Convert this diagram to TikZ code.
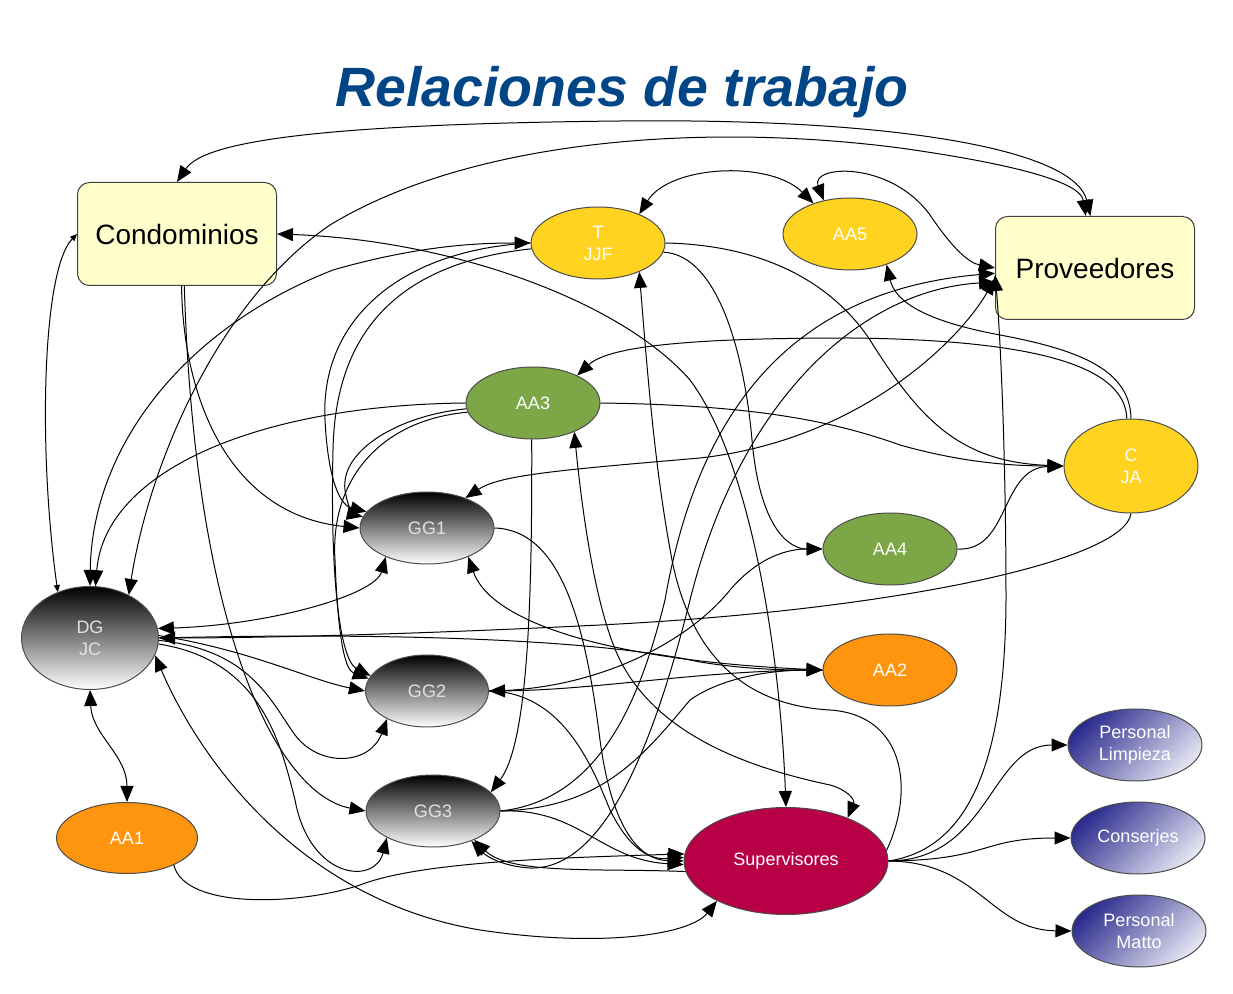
\documentclass[tikz,border=0pt]{standalone}
\usepackage{fontspec}
\setmainfont{Liberation Sans}
\usetikzlibrary{shapes.geometric,arrows.meta}
\definecolor{boxy}{HTML}{FFFFCC}
\definecolor{cyel}{HTML}{FFD320}
\definecolor{cgrn}{HTML}{7DA647}
\definecolor{corg}{HTML}{FF950E}
\definecolor{ccrim}{HTML}{B80047}
\definecolor{cnavy}{HTML}{2B2B8E}
\definecolor{clav}{HTML}{E4E4F2}
\definecolor{tblue}{HTML}{004586}
\begin{document}
\begin{tikzpicture}[x=0.5pt,y=-0.5pt,
  >={Triangle[length=8pt,width=6.5pt]},
  box/.style={draw=black!75, line width=0.5pt, fill=boxy, rounded corners=6pt,
    minimum width=99.5pt, minimum height=51.5pt, inner sep=0pt,
    font=\fontsize{14}{16}\selectfont},
  ell/.style={ellipse, draw=black!70, line width=0.5pt, inner sep=0pt,
    minimum width=67pt, minimum height=36pt, text=white, align=center,
    font=\fontsize{9}{11}\selectfont},
  fyel/.style={fill=cyel},
  fgrn/.style={fill=cgrn},
  forg/.style={fill=corg},
  fcrim/.style={fill=ccrim},
  fgry/.style={top color=black, bottom color=white, text=black!12},
  fpur/.style={top color=cnavy, bottom color=clav, shading angle=45},
  con/.style={line width=0.5pt, draw=black},
  small/.style={>={Triangle[length=3.5pt,width=3pt]}},
]
\useasboundingbox (0,0) rectangle (1233,994);
\node[anchor=base, text=tblue, font=\fontsize{27.7}{30}\selectfont\bfseries\itshape] (title) at (622,107) {Relaciones de trabajo};

\node[box] (cond) at (177,234) {Condominios};
\node[box] (prov) at (1095,268) {Proveedores};
\node[ell,fyel] (T) at (598,243) {T\\JJF};
\node[ell,fyel] (AA5) at (850,234) {AA5};
\node[ell,fgrn] (AA3) at (533,403) {AA3};
\node[ell,fyel,minimum height=47pt] (CJA) at (1131,466) {C\\JA};
\node[ell,fgry] (GG1) at (427,528) {GG1};
\node[ell,fgrn] (AA4) at (890,549) {AA4};
\node[ell,fgry,minimum width=68.5pt,minimum height=51.5pt] (DG) at (90,638) {DG\\JC};
\node[ell,forg] (AA2) at (890,670) {AA2};
\node[ell,fgry,minimum width=61.5pt] (GG2) at (427,691) {GG2};
\node[ell,fgry] (GG3) at (433,811) {GG3};
\node[ell,forg,minimum width=70.5pt,minimum height=35.5pt] (AA1) at (127,838) {AA1};
\node[ell,fcrim,minimum width=102pt,minimum height=53.5pt] (SUP) at (786,861) {Supervisores};
\node[ell,fpur] (PL) at (1135,745) {Personal\\Limpieza};
\node[ell,fpur] (CON) at (1138,838) {Conserjes};
\node[ell,fpur] (PM) at (1139,931) {Personal\\Matto};

% top arcs
\draw[con,<->] (cond.north) .. controls (205,140) and (330,124) .. (620,121) .. controls (900,118) and (1075,150) .. (prov.95);
\draw[con,<->] (DG.48) .. controls (150,460) and (220,300) .. (330,225) .. controls (470,140) and (700,122) .. (900,148) .. controls (1000,162) and (1080,180) .. (prov.100);
\draw[con,<->,small] (DG.125) .. controls (38,450) and (42,270) .. (cond.west);
\draw[con,<->] (DG.north) .. controls (92,450) and (180,330) .. (333,270) .. controls (420,245) and (480,243) .. (T.west);
\draw[con,->] (AA3.west) .. controls (260,405) and (105,470) .. (DG.84);
\draw[con,<->] (cond.east) .. controls (450,240) and (620,300) .. (690,380) .. controls (750,460) and (780,650) .. (SUP.north);
\draw[con,->] (cond.275) .. controls (183,400) and (230,515) .. (GG1.west);
\draw[con,->] (cond.278) .. controls (195,640) and (280,795) .. (GG3.west);

% DG right side
\draw[con,<->] (DG.8) .. controls (270,625) and (375,595) .. (GG1.215);
\draw[con,->] (DG.2) .. controls (250,650) and (310,680) .. (GG2.west);
\draw[con,->] (DG.358) .. controls (250,650) and (270,700) .. (295,735) .. controls (320,768) and (370,765) .. (GG2.215);
\draw[con,->] (DG.355) .. controls (260,660) and (280,740) .. (295,800) .. controls (310,880) and (375,885) .. (GG3.210);
\draw[con,->] (CJA.south) .. controls (1125,560) and (900,610) .. (600,625) .. controls (400,635) and (250,638) .. (DG.east);
\draw[con,->] (DG.east) .. controls (400,632) and (600,640) .. (700,662) .. controls (750,670) and (790,670) .. (AA2.west);
\draw[con,<->] (DG.345) .. controls (200,760) and (300,900) .. (480,930) .. controls (600,948) and (690,935) .. (SUP.210);
\draw[con,<->] (DG.south) .. controls (92,735) and (127,755) .. (AA1.north);
\draw[con,->] (AA1.330) .. controls (185,910) and (300,905) .. (360,885) .. controls (420,862) and (550,858) .. (SUP.176);

% top right
\draw[con,<->] (T.35) .. controls (670,165) and (770,160) .. (AA5.140);
\draw[con,<->] (AA5.128) .. controls (810,165) and (890,160) .. (930,215) .. controls (955,252) and (970,263) .. (prov.west);
\draw[con,->] (CJA.north) .. controls (1130,370) and (1080,350) .. (1000,335) .. controls (920,320) and (895,300) .. (AA5.320);
\draw[con,->] (CJA.95) .. controls (1125,370) and (1050,340) .. (850,338) .. controls (700,338) and (610,345) .. (AA3.32);
\draw[con,->] (AA3.east) .. controls (750,405) and (830,420) .. (900,445) .. controls (960,462) and (1010,466) .. (CJA.west);
\draw[con,->] (T.east) .. controls (760,245) and (830,280) .. (870,340) .. controls (920,420) and (960,462) .. (CJA.west);
\draw[con,->] (AA4.east) .. controls (1010,552) and (1000,468) .. (CJA.west);
\draw[con,->] (T.352) .. controls (720,255) and (745,360) .. (752,440) .. controls (760,530) and (790,549) .. (AA4.west);
\draw[con,->] (GG2.east) .. controls (600,690) and (690,640) .. (730,590) .. controls (760,555) and (790,549) .. (AA4.west);

% AA2 links
\draw[con,<->] (GG1.325) .. controls (490,620) and (600,660) .. (AA2.west);
\draw[con,->] (AA2.west) .. controls (700,670) and (600,690) .. (GG2.east);
\draw[con,->] (GG3.east) .. controls (600,808) and (640,760) .. (690,700) .. controls (730,672) and (790,670) .. (AA2.west);

% to Supervisores
\draw[con,->] (GG1.east) .. controls (560,530) and (585,620) .. (600,740) .. controls (612,830) and (640,860) .. (SUP.180);
\draw[con,->] (GG2.east) .. controls (560,692) and (590,760) .. (610,810) .. controls (630,850) and (650,860) .. (SUP.178);
\draw[con,->] (GG3.east) .. controls (580,808) and (600,860) .. (SUP.182);
\draw[con,->] (SUP.186) .. controls (600,868) and (510,875) .. (GG3.325);
\draw[con,<->] (AA3.325) .. controls (585,540) and (600,620) .. (620,660) .. controls (660,740) and (760,770) .. (830,785) .. controls (848,790) and (855,800) .. (SUP.35);
\draw[con,->] (AA3.268) .. controls (532,580) and (530,740) .. (GG3.18);

% Proveedores links
\draw[con,<->] (prov.188) .. controls (860,290) and (740,400) .. (690,600) .. controls (650,760) and (600,870) .. (530,868) .. controls (500,866) and (485,855) .. (GG3.322);
\draw[con,->] (GG3.east) .. controls (600,800) and (640,700) .. (665,600) .. controls (700,400) and (800,290) .. (prov.183);
\draw[con,<->] (prov.186) .. controls (960,340) and (860,440) .. (700,458) .. controls (560,470) and (500,475) .. (GG1.38);
\draw[con,->] (SUP.east) .. controls (960,850) and (1005,780) .. (1006,600) .. controls (1006,450) and (1000,330) .. (prov.184);
\draw[con,->] (SUP.6) .. controls (915,790) and (905,715) .. (830,710) .. controls (740,705) and (690,650) .. (672,560) .. controls (655,470) and (648,380) .. (T.325);

% T and AA3 down the left
\draw[con,->] (T.west) .. controls (400,250) and (320,320) .. (325,420) .. controls (328,480) and (340,505) .. (GG1.165);
\draw[con,->] (T.185) .. controls (380,265) and (335,350) .. (333,450) .. controls (330,580) and (340,660) .. (GG2.165);
\draw[con,->] (AA3.185) .. controls (400,415) and (340,450) .. (345,490) .. controls (348,510) and (355,515) .. (GG1.170);
\draw[con,->] (AA3.188) .. controls (380,420) and (330,480) .. (335,560) .. controls (338,640) and (345,670) .. (GG2.168);

% Supervisores to staff
\draw[con,->] (SUP.east) .. controls (990,860) and (990,745) .. (PL.west);
\draw[con,->] (SUP.east) .. controls (990,860) and (980,838) .. (CON.west);
\draw[con,->] (SUP.east) .. controls (980,862) and (990,930) .. (PM.west);
\end{tikzpicture}
\end{document}
